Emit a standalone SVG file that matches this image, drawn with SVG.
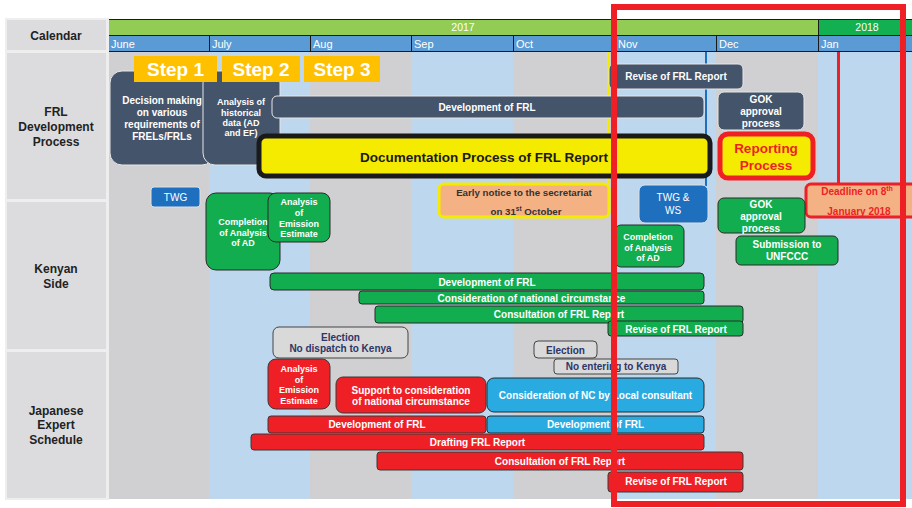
<svg xmlns="http://www.w3.org/2000/svg" width="912" height="508" viewBox="0 0 912 508">
<style>
text{font-family:"Liberation Sans",Arial,sans-serif;}
.lbl{font-size:12px;font-weight:bold;fill:#222;text-anchor:middle}
.cell{fill:#dcdcde}
.colg{fill:#d0d0d2}
.colb{fill:#bdd7ee}
.mon{font-size:11px;fill:#fff}
.hl{stroke:#1a1a1a;stroke-width:1}
.slate{fill:#44546a;stroke:#e6e6e6;stroke-width:1}
.grn{fill:#12ad4f;stroke:#2b2b2b;stroke-width:1}
.red{fill:#ee1f25;stroke:#3a3a3a;stroke-width:1}
.cyan{fill:#29abe2;stroke:#2b2b2b;stroke-width:1}
.blu{fill:#1f6fbf;stroke:#e0e0e0;stroke-width:1}
.gry{fill:#d9d9d9;stroke:#444;stroke-width:1}
.step{fill:#ffc000}
.st{font-size:19px;font-weight:bold;fill:#fff;text-anchor:middle}
.tw{font-size:10px;font-weight:bold;fill:#fff;text-anchor:middle}
.ts{font-size:9px;font-weight:bold;fill:#fff;text-anchor:middle}
.tr{font-size:10px;fill:#fff;text-anchor:middle}
.tn{font-size:10px;font-weight:bold;fill:#2e3567;text-anchor:middle}
</style>
<rect width="912" height="508" fill="#fff"/>
<g id="left-labels">
<rect x="5" y="18" width="104" height="482" fill="#eeeeef"/>
<rect class="cell" x="7" y="20" width="99" height="30"/>
<rect class="cell" x="7" y="53" width="99" height="146"/>
<rect class="cell" x="7" y="202" width="99" height="147"/>
<rect class="cell" x="7" y="352" width="99" height="146"/>
<text class="lbl" x="56" y="40">Calendar</text>
<text class="lbl" x="56" y="116">FRL</text>
<text class="lbl" x="56" y="131">Development</text>
<text class="lbl" x="56" y="146">Process</text>
<text class="lbl" x="56" y="273">Kenyan</text>
<text class="lbl" x="56" y="288">Side</text>
<text class="lbl" x="56" y="415">Japanese</text>
<text class="lbl" x="56" y="429">Expert</text>
<text class="lbl" x="56" y="444">Schedule</text>
</g>
<g id="columns">
<rect class="colg" x="109" y="52" width="100" height="447"/>
<rect class="colb" x="209" y="52" width="101" height="447"/>
<rect class="colg" x="310" y="52" width="101" height="447"/>
<rect class="colb" x="411" y="52" width="102" height="447"/>
<rect class="colg" x="513" y="52" width="102" height="447"/>
<rect class="colb" x="615" y="52" width="101" height="447"/>
<rect class="colg" x="716" y="52" width="102" height="447"/>
<rect class="colb" x="818" y="52" width="94" height="447"/>
</g>
<g id="calendar">
<rect x="109" y="19" width="709" height="16" fill="#92cc55"/>
<rect x="818" y="19" width="94" height="16" fill="#12b050"/>
<rect x="109" y="35" width="803" height="17" fill="#5b9bd5"/>
<text x="463" y="31" font-size="10.5" fill="#fff" text-anchor="middle">2017</text>
<text x="867" y="31" font-size="10.5" fill="#fff" text-anchor="middle">2018</text>
<line class="hl" x1="109" y1="19.5" x2="912" y2="19.5"/>
<line class="hl" x1="109" y1="35.5" x2="912" y2="35.5"/>
<line class="hl" x1="109" y1="51.5" x2="912" y2="51.5"/>
<line class="hl" x1="818.5" y1="19" x2="818.5" y2="35"/>
<line class="hl" x1="209.5" y1="35" x2="209.5" y2="52"/>
<line class="hl" x1="310.5" y1="35" x2="310.5" y2="52"/>
<line class="hl" x1="411.5" y1="35" x2="411.5" y2="52"/>
<line class="hl" x1="513.5" y1="35" x2="513.5" y2="52"/>
<line class="hl" x1="615.5" y1="35" x2="615.5" y2="52"/>
<line class="hl" x1="716.5" y1="35" x2="716.5" y2="52"/>
<line class="hl" x1="818.5" y1="35" x2="818.5" y2="52"/>
<text class="mon" x="111" y="48">June</text>
<text class="mon" x="212" y="48">July</text>
<text class="mon" x="313" y="48">Aug</text>
<text class="mon" x="414" y="48">Sep</text>
<text class="mon" x="516" y="48">Oct</text>
<text class="mon" x="618" y="48">Nov</text>
<text class="mon" x="719" y="48">Dec</text>
<text class="mon" x="821" y="48">Jan</text>
</g>
<g id="connectors">
<line x1="608.5" y1="52" x2="608.5" y2="184" stroke="#f5eb00" stroke-width="3"/>
<line x1="706" y1="52" x2="706" y2="186" stroke="#1f6fbf" stroke-width="2"/>
<line x1="838.5" y1="52" x2="838.5" y2="184" stroke="#ee1f25" stroke-width="3"/>
</g>
<g id="decision-making">
<rect class="slate" x="110" y="71" width="104" height="94" rx="12"/>
<text class="tw" x="162" y="104">Decision making</text>
<text class="tw" x="162" y="116">on various</text>
<text class="tw" x="162" y="128">requirements of</text>
<text class="tw" x="162" y="140">FRELs/FRLs</text>
</g>
<g id="analysis-historical">
<rect class="slate" x="203" y="71" width="77" height="94" rx="12"/>
<text class="ts" x="241" y="105">Analysis of</text>
<text class="ts" x="241" y="116">historical</text>
<text class="ts" x="241" y="126">data (AD</text>
<text class="ts" x="241" y="136">and EF)</text>
</g>
<g id="step1"><rect class="step" x="134" y="56" width="83" height="26"/><text class="st" x="175.5" y="76">Step 1</text></g>
<g id="step2"><rect class="step" x="222" y="56" width="78" height="26"/><text class="st" x="261" y="76">Step 2</text></g>
<g id="step3"><rect class="step" x="304" y="56" width="76" height="26"/><text class="st" x="342" y="76">Step 3</text></g>
<g id="dev-frl-top">
<rect class="slate" x="272" y="96" width="432" height="22" rx="5"/>
<text class="tw" x="487" y="111">Development of FRL</text>
</g>
<g id="documentation">
<rect x="259" y="136" width="451" height="40" rx="7" fill="#f5eb00" stroke="#1a1a1a" stroke-width="5"/>
<text x="484" y="162" font-size="13.5" font-weight="bold" fill="#1a1a1a" text-anchor="middle">Documentation Process of FRL Report</text>
</g>
<g id="revise-top">
<rect class="slate" x="609" y="64" width="134" height="25" rx="5"/>
<text class="tw" x="676" y="80">Revise of FRL Report</text>
</g>
<g id="gok-top">
<rect class="slate" x="718" y="92" width="86" height="38" rx="6"/>
<text class="tw" x="761" y="103">GOK</text>
<text class="tw" x="761" y="115">approval</text>
<text class="tw" x="761" y="127">process</text>
</g>
<g id="reporting">
<rect x="720" y="134" width="93" height="44" rx="8" fill="#f5eb00" stroke="#ee1f25" stroke-width="5"/>
<text x="766" y="153" font-size="13.5" font-weight="bold" fill="#ee1f25" text-anchor="middle">Reporting</text>
<text x="766" y="170" font-size="13.5" font-weight="bold" fill="#ee1f25" text-anchor="middle">Process</text>
</g>
<g id="deadline">
<rect x="806" y="184" width="110" height="33" rx="5" fill="#f4b183" stroke="#ee1f25" stroke-width="3"/>
<text x="857" y="195" font-size="10" font-weight="bold" fill="#ee1f25" text-anchor="middle">Deadline on 8<tspan font-size="7" dy="-4">th</tspan></text>
<text x="859" y="215" font-size="10" font-weight="bold" fill="#ee1f25" text-anchor="middle">January 2018</text>
</g>
<g id="twg">
<rect class="blu" x="151" y="187" width="49" height="20" rx="3"/>
<text class="tr" x="175.5" y="201">TWG</text>
</g>
<g id="completion-left">
<rect class="grn" x="206" y="193" width="74" height="77" rx="10"/>
<text class="ts" x="243" y="224.5">Completion</text>
<text class="ts" x="243" y="235.5">of Analysis</text>
<text class="ts" x="243" y="245.5">of AD</text>
</g>
<g id="emission-green">
<rect class="grn" x="268" y="193" width="62" height="49" rx="8"/>
<text class="ts" x="299" y="205">Analysis</text>
<text class="ts" x="299" y="216">of</text>
<text class="ts" x="299" y="227">Emission</text>
<text class="ts" x="299" y="237">Estimate</text>
</g>
<g id="early-notice">
<rect x="439" y="184" width="170" height="33" rx="5" fill="#f4b183" stroke="#f5eb00" stroke-width="3"/>
<text x="524" y="196" font-size="9.7" font-weight="bold" fill="#333" text-anchor="middle">Early notice to the secretariat</text>
<text x="526" y="215" font-size="9.7" font-weight="bold" fill="#333" text-anchor="middle">on 31<tspan font-size="6.5" dy="-4">st</tspan><tspan dy="4"> October</tspan></text>
</g>
<g id="twg-ws">
<rect class="blu" x="639" y="185" width="69" height="38" rx="6"/>
<text class="tr" x="673" y="200.5">TWG &amp;</text>
<text class="tr" x="673" y="213.5">WS</text>
</g>
<g id="gok-green">
<rect class="grn" x="718" y="198" width="87" height="35" rx="6"/>
<text class="tw" x="761" y="207.5">GOK</text>
<text class="tw" x="761" y="220">approval</text>
<text class="tw" x="761" y="232">process</text>
</g>
<g id="submission">
<rect class="grn" x="736" y="236" width="102" height="29" rx="5"/>
<text class="tw" x="787" y="248">Submission to</text>
<text class="tw" x="787" y="260">UNFCCC</text>
</g>
<g id="completion-right">
<rect class="grn" x="615" y="225" width="69" height="42" rx="6"/>
<text class="ts" x="648" y="239.5">Completion</text>
<text class="ts" x="648" y="250.5">of Analysis</text>
<text class="ts" x="648" y="260.5">of AD</text>
</g>
<g id="dev-frl-green">
<rect class="grn" x="270" y="273" width="434" height="17" rx="4"/>
<text class="tw" x="487" y="285.5">Development of FRL</text>
</g>
<g id="consideration-green">
<rect class="grn" x="359" y="291" width="345" height="13" rx="3"/>
<text class="tw" x="531.5" y="301.5">Consideration of national circumstance</text>
</g>
<g id="consultation-green">
<rect class="grn" x="375" y="306" width="368" height="17" rx="3"/>
<text class="tw" x="559" y="318">Consultation of FRL Report</text>
</g>
<g id="revise-green">
<rect class="grn" x="608" y="321" width="135" height="15" rx="3"/>
<text class="tw" x="676" y="332.5">Revise of FRL Report</text>
</g>
<g id="election-dispatch">
<rect class="gry" x="273" y="327" width="135" height="31" rx="6"/>
<text class="tn" x="340.5" y="340.5">Election</text>
<text class="tn" x="340.5" y="352">No dispatch to Kenya</text>
</g>
<g id="election-right">
<rect class="gry" x="534" y="341" width="63" height="17" rx="4"/>
<text class="tn" x="565.5" y="353.5">Election</text>
</g>
<g id="no-entering">
<rect class="gry" x="554" y="359" width="124" height="15" rx="3"/>
<text class="tn" x="616" y="370">No entering to Kenya</text>
</g>
<g id="emission-red">
<rect class="red" x="268" y="359" width="62" height="50" rx="8"/>
<text class="ts" x="299" y="372">Analysis</text>
<text class="ts" x="299" y="383">of</text>
<text class="ts" x="299" y="393">Emission</text>
<text class="ts" x="299" y="404">Estimate</text>
</g>
<g id="support">
<rect class="red" x="336" y="377" width="150" height="36" rx="7"/>
<text class="tw" x="411" y="393.5">Support to consideration</text>
<text class="tw" x="411" y="404.5">of national circumstance</text>
</g>
<g id="nc-local">
<rect class="cyan" x="487" y="378" width="217" height="34" rx="7"/>
<text class="tw" x="595.5" y="398.5">Consideration of NC by Local consultant</text>
</g>
<g id="dev-frl-red">
<rect class="red" x="268" y="416" width="218" height="17" rx="3"/>
<text class="tw" x="377" y="427.5">Development of FRL</text>
</g>
<g id="dev-frl-cyan">
<rect class="cyan" x="487" y="416" width="217" height="17" rx="3"/>
<text class="tw" x="595.5" y="427.5">Development of FRL</text>
</g>
<g id="drafting">
<rect class="red" x="251" y="434" width="453" height="16" rx="3"/>
<text class="tw" x="477.5" y="445.5">Drafting FRL Report</text>
</g>
<g id="consultation-red">
<rect class="red" x="377" y="452" width="366" height="18" rx="3"/>
<text class="tw" x="560" y="465">Consultation of FRL Report</text>
</g>
<g id="revise-red">
<rect class="red" x="608" y="472" width="135" height="20" rx="3"/>
<text class="tw" x="676" y="485">Revise of FRL Report</text>
</g>
<g id="highlight-frame">
<rect x="614" y="7" width="289" height="497" fill="none" stroke="#ee1f25" stroke-width="6"/>
</g>
</svg>
